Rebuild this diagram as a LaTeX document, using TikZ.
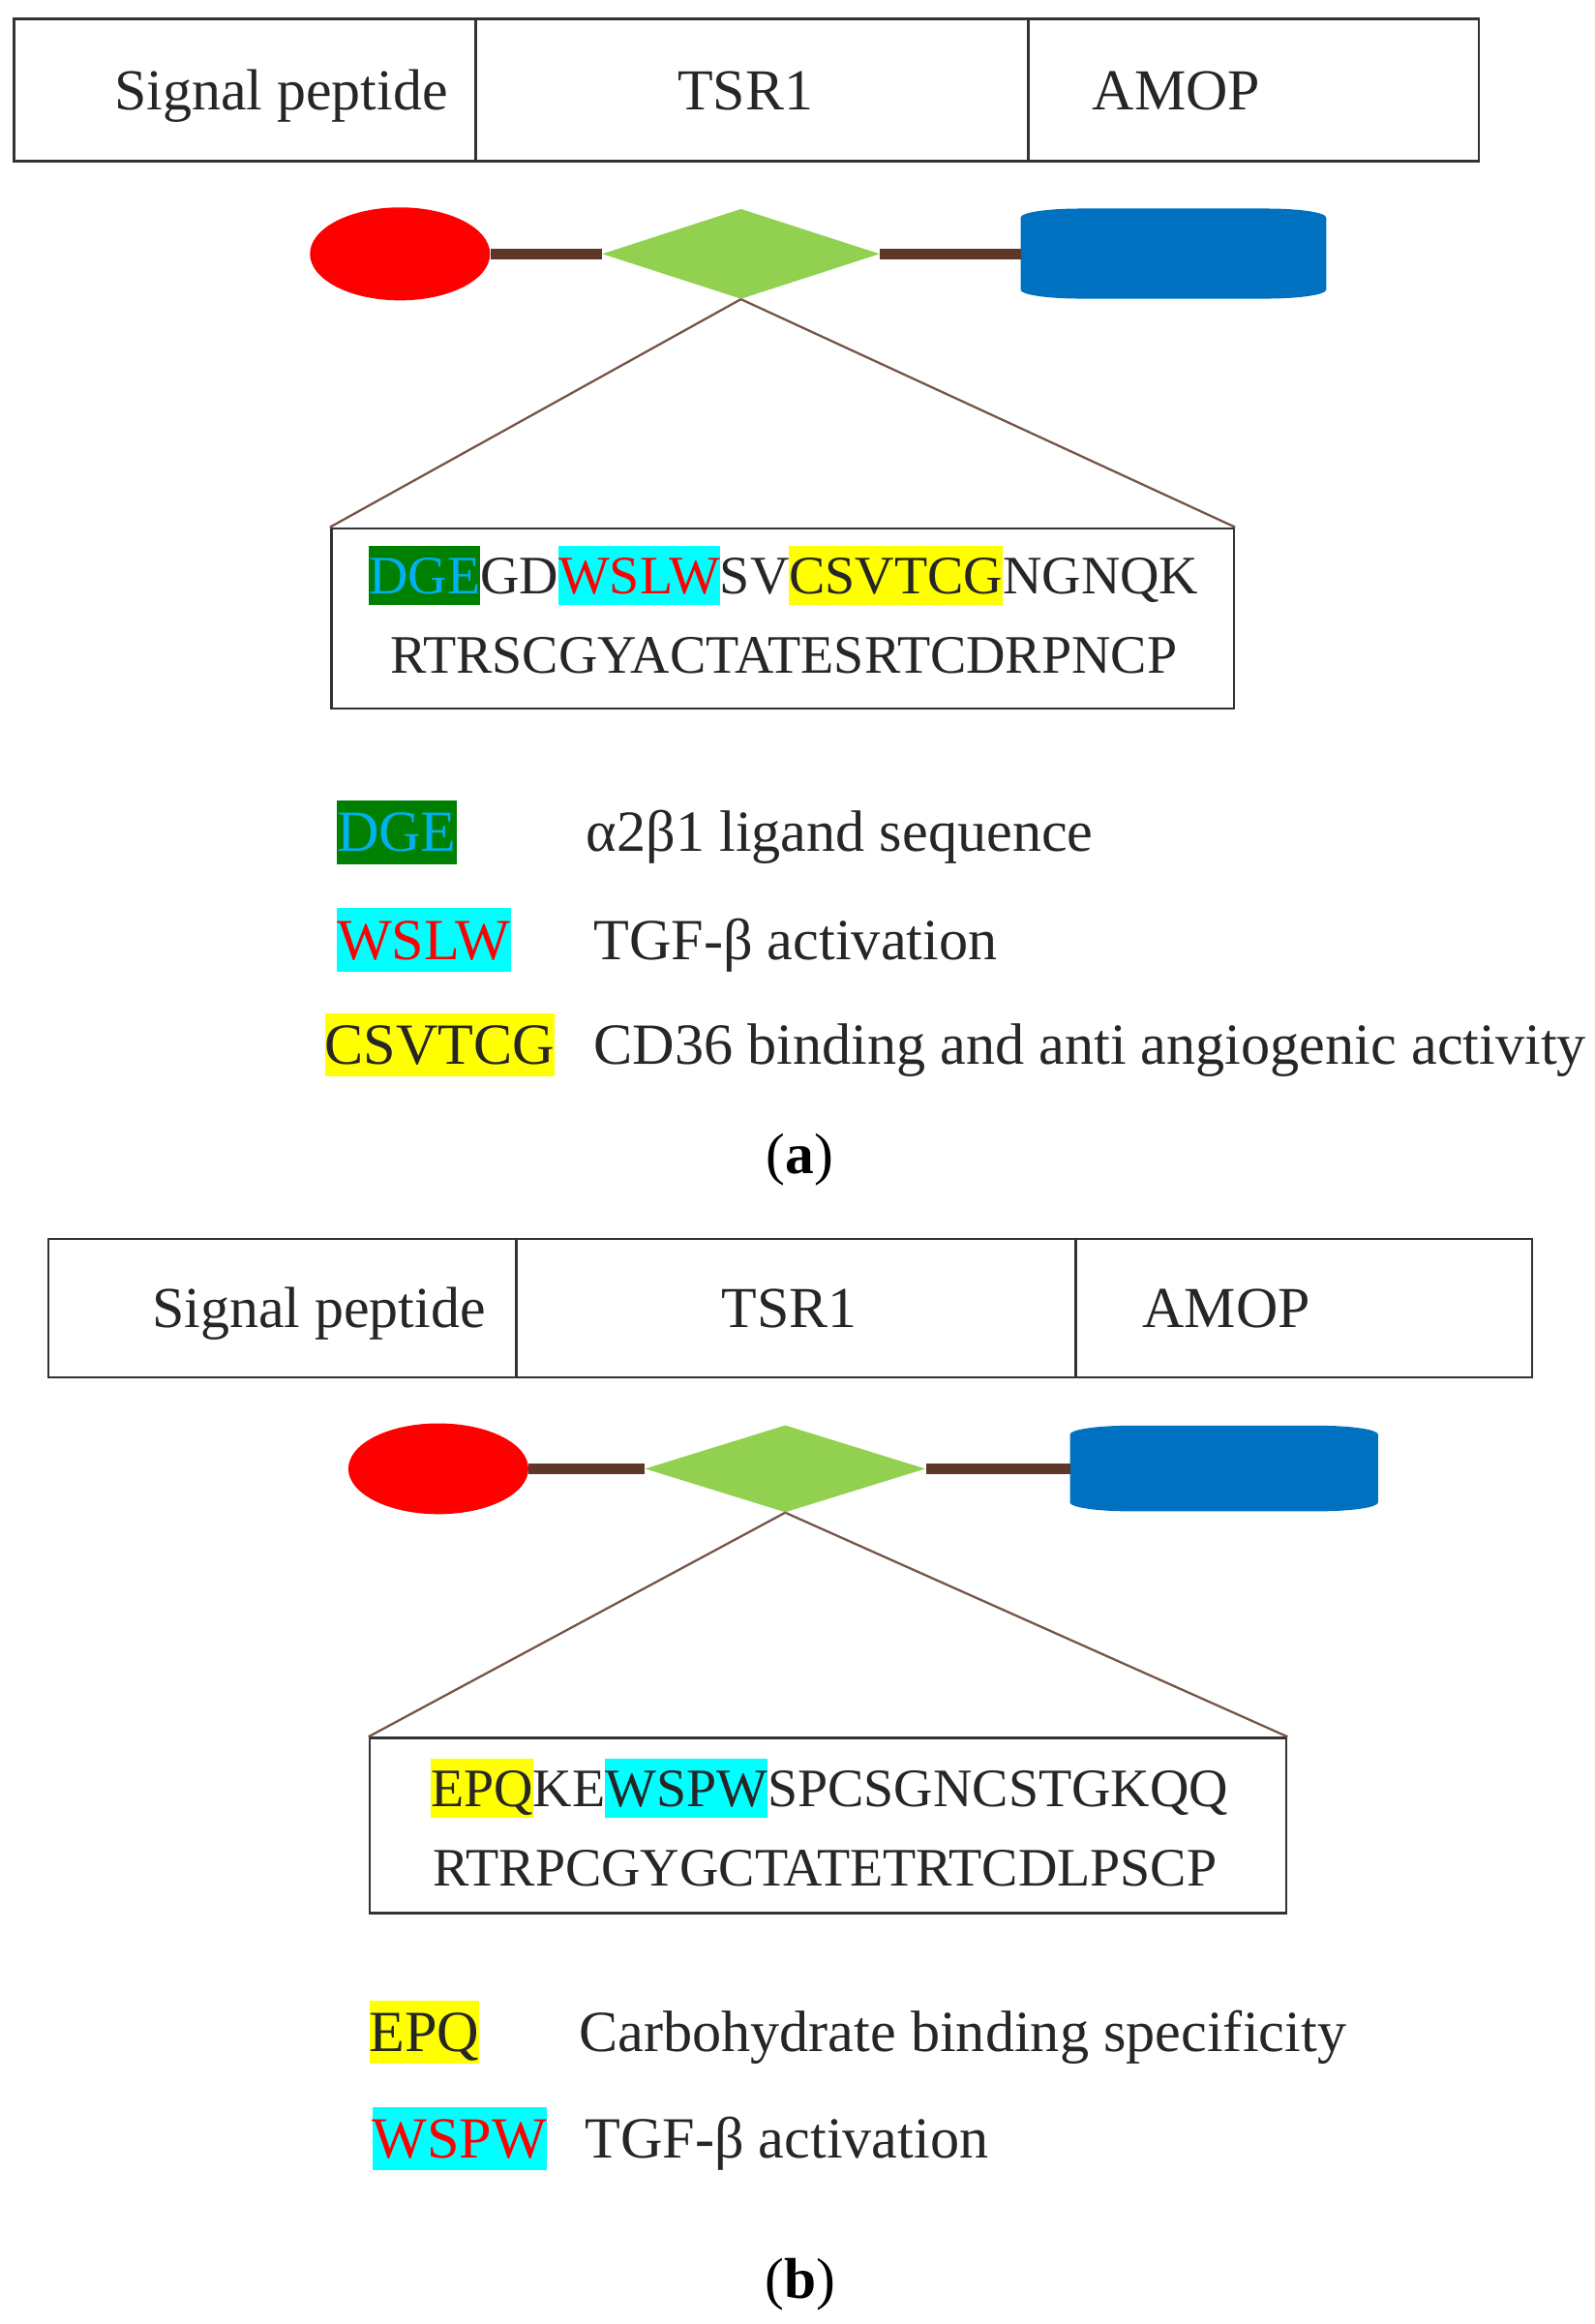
\documentclass[tikz,border=0pt]{standalone}
\usepackage{fontspec}
\setmainfont{Liberation Serif}
\usetikzlibrary{shapes.geometric}

\definecolor{sigred}{RGB}{255,0,0}
\definecolor{tsrgreen}{RGB}{146,208,80}
\definecolor{amopblue}{RGB}{0,112,192}
\definecolor{linkbrown}{RGB}{94,55,38}
\definecolor{hlgreen}{RGB}{0,128,0}
\definecolor{hlcyan}{RGB}{0,255,255}
\definecolor{hlyellow}{RGB}{255,255,0}
\definecolor{dgeblue}{RGB}{0,176,240}
\definecolor{txtgray}{RGB}{38,38,38}
\definecolor{edgegray}{RGB}{51,51,51}

% highlighted motif: background, text colour, letters
\newcommand{\seqhl}[3]{{\setlength{\fboxsep}{0pt}\colorbox{#1}{\textcolor{#2}{\rule[-0.21em]{0pt}{1.09em}#3}}}}

\begin{document}
\begin{tikzpicture}[x=1pt, y=-1pt,
    cell/.style={draw=edgegray, line width=1.75pt, inner sep=0pt},
    lbl/.style={anchor=base, text=txtgray, inner sep=0pt, font=\fontsize{39.3}{47}\selectfont},
    seq/.style={anchor=base, text=txtgray, inner sep=0pt, font=\fontsize{36.7}{44}\selectfont},
    leg/.style={anchor=base west, text=txtgray, inner sep=0pt, font=\fontsize{39.5}{47}\selectfont},
    panel/.style={anchor=base, inner sep=0pt, font=\fontsize{39}{47}\selectfont},
    sig/.style={ellipse, fill=sigred, inner sep=0pt},
    tsr/.style={diamond, fill=tsrgreen, inner sep=0pt},
    amop/.style={rectangle, inner sep=0pt},
    link/.style={draw=linkbrown, line width=7.5pt},
    zoomline/.style={draw=linkbrown!85, line width=1.5pt},
    seqbox/.style={draw=edgegray, line width=1.75pt, inner sep=0pt}]
    \useasboundingbox (0,0) rectangle (1080,1574.4);

    % Panel (a): domains
    \node[cell, minimum width=313pt, minimum height=96pt] (sigA) at (165.8,61) {};
    \node[cell, minimum width=374.3pt, minimum height=96pt] (tsrA) at (509.5,61) {};
    \node[cell, minimum width=305.4pt, minimum height=96pt] (amopA) at (849.3,61) {};
    \node[lbl] (sigAtxt) at (190.5,74.6) {Signal peptide};
    \node[lbl] (tsrAtxt) at (505,74.6) {TSR1};
    \node[lbl] (amopAtxt) at (797,74.6) {AMOP};

    % Panel (a): protein
    \node[sig, minimum width=122pt, minimum height=63pt] (redA) at (271,172) {};
    \node[tsr, minimum width=188pt, minimum height=61pt] (greenA) at (502,172) {};
    \node[amop, minimum width=207pt, minimum height=61pt] (blueA) at (795.2,172) {};
    \fill[amopblue] (blueA.north west) ++(0,6)
        arc[start angle=180, end angle=270, x radius=40, y radius=6] -- ++(127,0)
        arc[start angle=270, end angle=360, x radius=40, y radius=6] -- ++(0,49)
        arc[start angle=0, end angle=90, x radius=40, y radius=6] -- ++(-127,0)
        arc[start angle=90, end angle=180, x radius=40, y radius=6] -- cycle;
    \draw[link] (redA.east) -- (greenA.west);
    \draw[link] (greenA.east) -- (blueA.west);

    % Panel (a): sequence
    \node[seqbox, minimum width=611.5pt, minimum height=122pt] (seqA) at (530.2,419) {};
    \node[seq] (seqA1) at (531,402) {\seqhl{hlgreen}{dgeblue}{DGE}GD\seqhl{hlcyan}{sigred}{WSLW}SV\seqhl{hlyellow}{txtgray}{CSVTCG}NGNQK};
    \node[seq] (seqA2) at (531,456) {RTRSCGYACTATESRTCDRPNCP};
    \draw[zoomline] (greenA.south) -- (seqA.north west);
    \draw[zoomline] (greenA.south) -- (seqA.north east);

    % Panel (a): legend
    \node[leg] (dgeA) at (228,577) {\seqhl{hlgreen}{dgeblue}{DGE}};
    \node[leg] (dgeAtxt) at (397,577) {α2β1 ligand sequence};
    \node[leg] (wslwA) at (228,650) {\seqhl{hlcyan}{sigred}{WSLW}};
    \node[leg] (wslwAtxt) at (402,650) {TGF-β activation};
    \node[leg] (csvA) at (220,721) {\seqhl{hlyellow}{txtgray}{CSVTCG}};
    \node[leg] (csvAtxt) at (402,721) {CD36 binding and anti angiogenic activity};
    \node[panel] (capA) at (542,795) {(\textbf{a})};

    % Panel (b): domains
    \node[cell, minimum width=317.2pt, minimum height=93.7pt] (sigB) at (191.4,886.2) {};
    \node[cell, minimum width=379pt, minimum height=93.7pt] (tsrB) at (539.5,886.2) {};
    \node[cell, minimum width=309pt, minimum height=93.7pt] (amopB) at (883.5,886.2) {};
    \node[lbl] (sigBtxt) at (216,899.5) {Signal peptide};
    \node[lbl] (tsrBtxt) at (535,899.5) {TSR1};
    \node[lbl] (amopBtxt) at (831,899.5) {AMOP};

    % Panel (b): protein
    \node[sig, minimum width=122pt, minimum height=61.5pt] (redB) at (297,995) {};
    \node[tsr, minimum width=190pt, minimum height=59pt] (greenB) at (532,995) {};
    \node[amop, minimum width=208.8pt, minimum height=58pt] (blueB) at (829.5,995) {};
    \fill[amopblue] (blueB.north west) ++(0,6)
        arc[start angle=180, end angle=270, x radius=40, y radius=6] -- ++(128.8,0)
        arc[start angle=270, end angle=360, x radius=40, y radius=6] -- ++(0,46)
        arc[start angle=0, end angle=90, x radius=40, y radius=6] -- ++(-128.8,0)
        arc[start angle=90, end angle=180, x radius=40, y radius=6] -- cycle;
    \draw[link] (redB.east) -- (greenB.west);
    \draw[link] (greenB.east) -- (blueB.west);

    % Panel (b): sequence
    \node[seqbox, minimum width=621pt, minimum height=118.5pt] (seqB) at (561,1236.7) {};
    \node[seq] (seqB1) at (562,1224) {\seqhl{hlyellow}{txtgray}{EPQ}KE\seqhl{hlcyan}{txtgray}{WSPW}SPCSGNCSTGKQQ};
    \node[seq] (seqB2) at (559,1277.6) {RTRPCGYGCTATETRTCDLPSCP};
    \draw[zoomline] (greenB.south) -- (seqB.north west);
    \draw[zoomline] (greenB.south) -- (seqB.north east);

    % Panel (b): legend
    \node[leg] (epqB) at (250,1390) {\seqhl{hlyellow}{txtgray}{EPQ}};
    \node[leg] (epqBtxt) at (392,1390) {Carbohydrate binding specificity};
    \node[leg] (wspwB) at (252,1462) {\seqhl{hlcyan}{sigred}{WSPW}};
    \node[leg] (wspwBtxt) at (396,1462) {TGF-β activation};
    \node[panel] (capB) at (542,1557) {(\textbf{b})};
\end{tikzpicture}
\end{document}
